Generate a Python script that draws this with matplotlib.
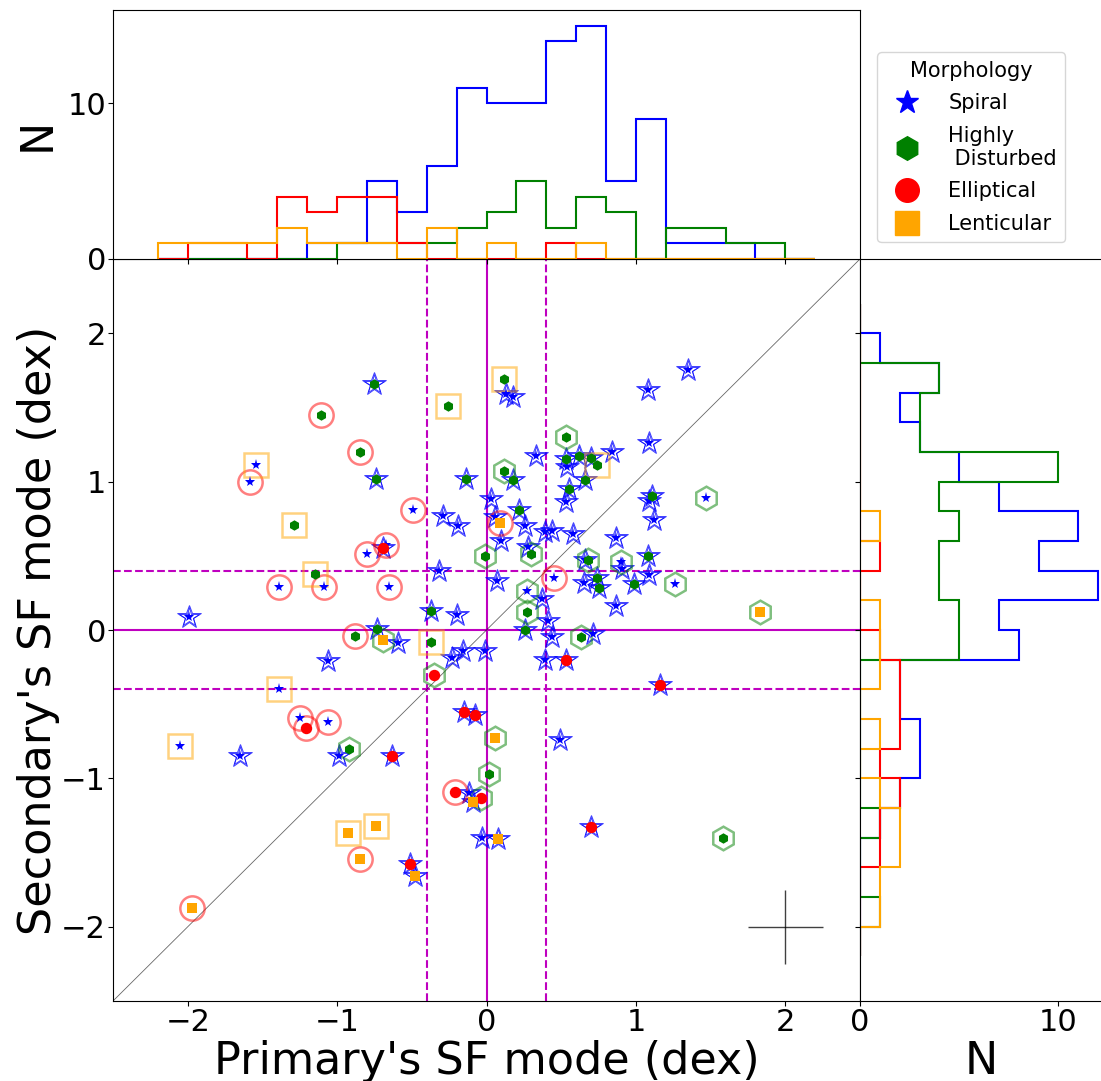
import numpy as np
import matplotlib
matplotlib.use("Agg")
import matplotlib.pyplot as plt
from matplotlib.lines import Line2D

# ---------------- data ----------------
# primary SF mode (x), secondary SF mode (y), primary morphology (outer), secondary morphology (inner)
prim_sf = [-1.11, -0.85, -1.54, -1.58, -0.75, -0.26, 0.12, 0.13, 0.18, 0.53,
           0.12, 0.18, 0.33, -0.74, -0.14, 0.03, 0.53, 0.54, 0.62, 0.70,
           0.74, 0.66, 0.84, 0.55, 0.53, 1.35, 1.08, 1.09, 1.11, 1.09,
           1.47, -1.29, -1.15, -1.39, -1.09, -0.88, -1.99, -1.06, -1.39, -1.25,
           -1.21, -1.06, -2.05, -1.65, -0.99, -0.92, -0.49, -0.29, -0.19, 0.06,
           0.09, 0.10, 0.26, 0.22, 0.28, 0.30, -0.01, -0.80, -0.69, -0.67,
           -0.65, -0.32, 0.07, 0.45, 0.27, 0.37, 0.27, -0.37, -0.20, 0.41,
           0.26, 0.44, 0.63, 0.71, -0.73, -0.69, -0.59, -0.37, -0.23, -0.16,
           -0.01, -0.35, 0.39, 0.53, -0.15, -0.08, 0.06, 0.49, -0.63, 1.12,
           0.87, 1.08, 0.90, 0.91, 0.99, 1.09, 1.26, 0.87, 1.83, 1.16,
           -0.93, -0.85, -1.97, 0.02, -0.21, -0.12, -0.04, -0.09, -0.74, -0.51,
           -0.48, -0.03, 0.08, 0.70, 1.58, 0.66, 0.74, 0.75, 0.65, 0.68,
           0.39, 0.44, 0.58]
sec_sf = [1.45, 1.20, 1.11, 1.00, 1.66, 1.51, 1.69, 1.59, 1.57, 1.30,
          1.07, 1.01, 1.17, 1.02, 1.02, 0.88, 1.15, 1.10, 1.17, 1.16,
          1.11, 1.01, 1.20, 0.95, 0.86, 1.75, 1.62, 1.26, 0.90, 0.87,
          0.89, 0.71, 0.38, 0.29, 0.29, -0.04, 0.09, -0.21, -0.40, -0.59,
          -0.66, -0.62, -0.78, -0.85, -0.85, -0.80, 0.81, 0.77, 0.70, 0.76,
          0.72, 0.60, 0.70, 0.81, 0.56, 0.51, 0.50, 0.51, 0.55, 0.57,
          0.29, 0.40, 0.33, 0.35, 0.26, 0.21, 0.12, 0.13, 0.10, 0.06,
          0.00, -0.05, -0.05, -0.03, 0.01, -0.07, -0.09, -0.08, -0.19, -0.14,
          -0.14, -0.30, -0.20, -0.20, -0.55, -0.57, -0.73, -0.74, -0.85, 0.74,
          0.62, 0.50, 0.46, 0.41, 0.31, 0.37, 0.31, 0.16, 0.12, -0.37,
          -1.37, -1.54, -1.87, -0.97, -1.09, -1.10, -1.13, -1.16, -1.32, -1.58,
          -1.66, -1.40, -1.41, -1.33, -1.40, 0.47, 0.35, 0.28, 0.32, 0.47,
          0.66, 0.67, 0.65]
prim_morph = ["E", "E", "L", "E", "S", "L", "L", "S", "S", "H",
              "H", "S", "S", "S", "S", "S", "S", "S", "S", "S",
              "L", "S", "S", "S", "S", "S", "S", "S", "S", "S",
              "H", "L", "L", "E", "E", "E", "S", "S", "L", "E",
              "E", "E", "L", "S", "S", "H", "E", "S", "S", "S",
              "E", "S", "S", "S", "S", "H", "H", "E", "S", "E",
              "E", "S", "S", "E", "H", "S", "H", "S", "S", "S",
              "S", "S", "H", "S", "S", "H", "S", "L", "S", "S",
              "S", "H", "S", "S", "S", "S", "H", "S", "S", "S",
              "S", "S", "H", "S", "S", "S", "H", "S", "H", "S",
              "L", "E", "E", "H", "E", "S", "H", "S", "L", "S",
              "S", "S", "S", "S", "H", "S", "S", "S", "S", "H",
              "S", "S", "S"]
sec_morph = ["H", "H", "S", "S", "H", "H", "H", "S", "S", "H",
             "H", "H", "S", "H", "H", "S", "H", "S", "H", "H",
             "H", "H", "S", "H", "S", "S", "S", "S", "H", "S",
             "S", "H", "H", "S", "S", "H", "S", "S", "S", "S",
             "E", "S", "S", "S", "S", "H", "S", "S", "S", "S",
             "L", "S", "S", "H", "S", "H", "H", "S", "E", "S",
             "S", "S", "S", "S", "S", "S", "H", "H", "S", "S",
             "H", "S", "H", "S", "H", "L", "S", "H", "S", "S",
             "S", "E", "S", "E", "E", "E", "L", "S", "E", "S",
             "S", "H", "S", "S", "H", "S", "S", "S", "L", "E",
             "L", "L", "L", "H", "E", "S", "E", "L", "L", "E",
             "L", "S", "L", "E", "H", "S", "H", "H", "S", "H",
             "S", "S", "S"]

# histogram bins (dex) and counts
bin_edges = np.round(np.arange(-2.2, 2.2001, 0.2), 2)
top_spiral = [0, 0, 0, 0, 0, 1, 1, 5, 3, 6, 11, 10, 10, 14, 15, 5, 9, 1, 1, 1, 0, 0]
top_disturbed = [0, 0, 0, 0, 0, 0, 1, 1, 1, 1, 2, 3, 5, 2, 4, 3, 0, 2, 2, 1, 1, 0]
top_elliptical = [0, 1, 1, 0, 4, 3, 4, 4, 1, 0, 0, 0, 0, 1, 0, 0, 0, 0, 0, 0, 0, 0]
top_lenticular = [1, 1, 1, 1, 2, 1, 1, 1, 0, 2, 0, 1, 0, 0, 1, 0, 0, 0, 0, 0, 0, 0]
right_spiral = [0, 0, 0, 0, 1, 2, 3, 3, 2, 2, 8, 7, 12, 9, 11, 7, 5, 3, 2, 4, 1, 0]
right_disturbed = [0, 1, 0, 0, 1, 0, 0, 0, 0, 0, 5, 5, 4, 4, 5, 4, 10, 3, 3, 4, 0, 0]
right_elliptical = [0, 0, 0, 1, 1, 2, 1, 2, 2, 2, 1, 0, 0, 1, 0, 0, 0, 0, 0, 0, 0, 0]
right_lenticular = [0, 1, 1, 2, 2, 1, 0, 1, 0, 1, 1, 1, 0, 0, 1, 0, 0, 0, 0, 0, 0, 0]

morph_names = ["Spiral", "Highly\n Disturbed", "Elliptical", "Lenticular"]
morph_codes = ["S", "H", "E", "L"]
tick_vals = [-2, -1, 0, 1, 2]

# ---------------- styles ----------------
colors = {"S": "blue", "H": "green", "E": "red", "L": "orange"}
markers = {"S": "*", "H": "h", "E": "o", "L": "s"}
outer_ms = {"S": 17.5, "H": 17, "E": 17.5, "L": 17}
inner_ms = {"S": 8, "H": 7.5, "E": 8.2, "L": 7.2}

W, H = 1101, 1081
fig = plt.figure(figsize=(W / 100, H / 100), dpi=100)
L0, R0, T0, B0, TT = 113, 860, 259, 1001, 10
ax = fig.add_axes([L0 / W, 1 - B0 / H, (R0 - L0) / W, (B0 - T0) / H])
axt = fig.add_axes([L0 / W, 1 - T0 / H, (R0 - L0) / W, (T0 - TT) / H], sharex=ax)
axr = fig.add_axes([R0 / W, 1 - B0 / H, (W + 2 - R0) / W, (B0 - T0) / H], sharey=ax)

x = np.array(prim_sf)
y = np.array(sec_sf)
pm = np.array(prim_morph)
sm = np.array(sec_morph)

# reference lines
mag = "#bf00bf"
ax.axvline(0, color=mag, lw=1.5, zorder=1)
ax.axhline(0, color=mag, lw=1.5, zorder=1)
for v in (-0.4, 0.4):
    ax.axvline(v, color=mag, lw=1.5, ls="--", zorder=1)
    ax.axhline(v, color=mag, lw=1.5, ls="--", zorder=1)
ax.plot([-2.5, 2.5], [-2.5, 2.5], color="k", lw=0.6, alpha=0.6, zorder=1)

# outer markers: primary morphology
for c in morph_codes:
    m = pm == c
    if not m.any():
        continue
    if c == "S":
        ax.plot(x[m], y[m], ls="none", marker="*", ms=outer_ms[c], mfc="none",
                mec="blue", mew=0.7, alpha=0.75, zorder=3)
        ax.plot(x[m], y[m], ls="none", marker="*", ms=outer_ms[c] - 2.6, mfc="none",
                mec="blue", mew=0.7, alpha=0.75, zorder=3)
    else:
        ax.plot(x[m], y[m], ls="none", marker=markers[c], ms=outer_ms[c], mfc="none",
                mec=colors[c], mew=1.8, alpha=0.5, zorder=3)

# inner markers: secondary morphology
for c in morph_codes:
    m = sm == c
    if not m.any():
        continue
    ax.plot(x[m], y[m], ls="none", marker=markers[c], ms=inner_ms[c],
            mfc=colors[c], mec=colors[c], mew=0, zorder=4)

# typical uncertainty
ax.errorbar([2.0], [-2.0], xerr=0.25, yerr=0.25, fmt="none", ecolor="k",
            elinewidth=1, alpha=0.75, zorder=2)

TICK_FS = 22
ax.set_xlim(-2.5, 2.5)
ax.set_ylim(-2.5, 2.5)
ax.set_xticks(tick_vals)
ax.set_yticks(tick_vals)
ax.set_xlabel("Primary's SF mode (dex)", fontsize=32, labelpad=2)
ax.set_ylabel("Secondary's SF mode (dex)", fontsize=32, labelpad=1)
ax.tick_params(labelsize=TICK_FS, length=3.5, pad=1.5)

# top histogram
for cnt, col in ((top_spiral, "blue"), (top_disturbed, "green"),
                 (top_elliptical, "red"), (top_lenticular, "orange")):
    axt.stairs(cnt, bin_edges, color=col, lw=1.5)
axt.set_ylim(0, 16)
axt.set_yticks([0, 10])
axt.tick_params(labelsize=TICK_FS, labelbottom=False, length=3.5, pad=1.5)
axt.set_ylabel("N", fontsize=32, labelpad=6)

# right histogram
for cnt, col in ((right_spiral, "blue"), (right_disturbed, "green"),
                 (right_elliptical, "red"), (right_lenticular, "orange")):
    axr.stairs(cnt, bin_edges, color=col, lw=1.5, orientation="horizontal")
axr.set_xlim(0, 12.25)
axr.set_xticks([0, 10])
axr.tick_params(labelsize=TICK_FS, labelleft=False, length=3.5, pad=1.5)
axr.set_xlabel("N", fontsize=32, labelpad=2)

# legend
handles = [Line2D([], [], ls="none", marker=markers[c], color=colors[c], ms=17)
           for c in morph_codes]
leg = fig.legend(handles, morph_names, title="Morphology", loc="upper left",
                 bbox_to_anchor=(867 / W, 1 - 42 / H), fontsize=15, title_fontsize=15,
                 frameon=True, handletextpad=1.0, labelspacing=0.6)

fig.savefig("out.png", dpi=100)
